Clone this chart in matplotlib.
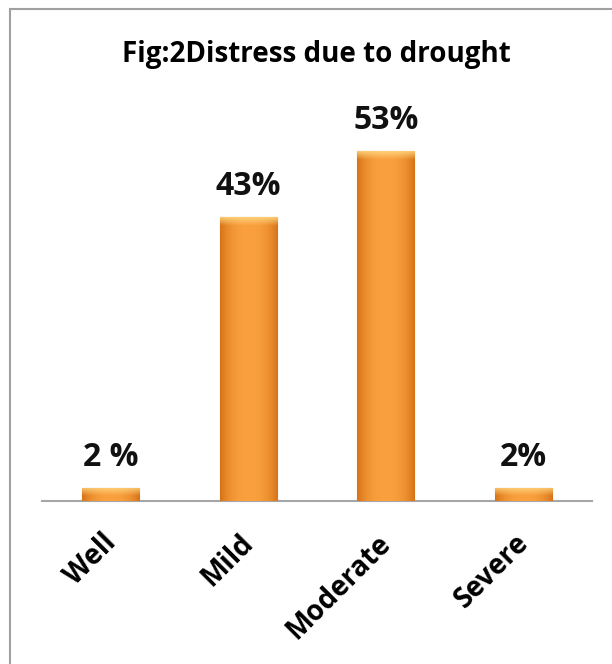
import matplotlib.pyplot as plt
import numpy as np
from matplotlib.patches import Rectangle
from matplotlib.transforms import ScaledTranslation

categories = ['Well', 'Mild', 'Moderate', 'Severe']
values = [2, 43, 53, 2]
labels = ['2 %', '43%', '53%', '2%']

FONT = 'Open Sans'

fig = plt.figure(figsize=(6.12, 6.64), dpi=100)
ax = fig.add_axes([42/612, 163/664, 550/612, 396/664])

x = np.arange(len(categories))
bars = ax.bar(x, values, width=0.415, color='#F7952F', edgecolor='#D9791F', linewidth=0.8, zorder=2)

# shaded look on each bar: dark at the sides, light in the middle
grad = np.linspace(-1, 1, 64)
shade = 1 - np.abs(grad) ** 2.5
img = np.zeros((1, 64, 3))
light = np.array([0xFA, 0xA0, 0x3E]) / 255
dark = np.array([0xD6, 0x74, 0x18]) / 255
for k in range(3):
    img[0, :, k] = dark[k] + (light[k] - dark[k]) * shade

# light bevel on the top edge
bevel = np.zeros((16, 1, 4))
bevel[:, 0, :3] = np.array([0xFF, 0xD8, 0x80]) / 255
bevel[:, 0, 3] = np.linspace(0.85, 0.0, 16)

for b in bars:
    x0, x1, h = b.get_x(), b.get_x() + b.get_width(), b.get_height()
    im = ax.imshow(img, extent=[x0, x1, 0, h], aspect='auto', zorder=3)
    im.set_clip_path(b)
    im2 = ax.imshow(bevel, extent=[x0, x1, max(h - 1.3, 0), h], aspect='auto', zorder=4)
    im2.set_clip_path(b)

for xi, v, lab in zip(x, values, labels):
    ax.text(xi, v + 3.3, lab, ha='center', va='baseline', fontsize=23,
            fontweight='bold', family=FONT, color='#111111')

ax.set_xlim(-0.5, 3.5)
ax.set_ylim(0, 60)
for s in ['top', 'right', 'left']:
    ax.spines[s].set_visible(False)
ax.spines['bottom'].set_color('#A6A6A6')
ax.spines['bottom'].set_linewidth(1.5)
ax.set_yticks([])
ax.set_xticks(x)
ax.set_xticklabels(categories, rotation=45, ha='right', rotation_mode='anchor',
                   fontsize=20, fontweight='bold', family=FONT)
ax.tick_params(axis='x', length=0, pad=20)
shift = ScaledTranslation(-9/100, 0, fig.dpi_scale_trans)
for t in ax.get_xticklabels():
    t.set_transform(t.get_transform() + shift)

fig.text(316/612, 1 - 62/664, 'Fig:2Distress due to drought', ha='center', va='baseline',
         fontsize=20, fontweight='bold', family=FONT)

fig.patches.append(Rectangle((10/612, -0.1), 1.2, 1.1 - 9/664, transform=fig.transFigure,
                             fill=False, edgecolor='#A0A0A0', linewidth=1.5))

fig.savefig('out.png', dpi=100)
